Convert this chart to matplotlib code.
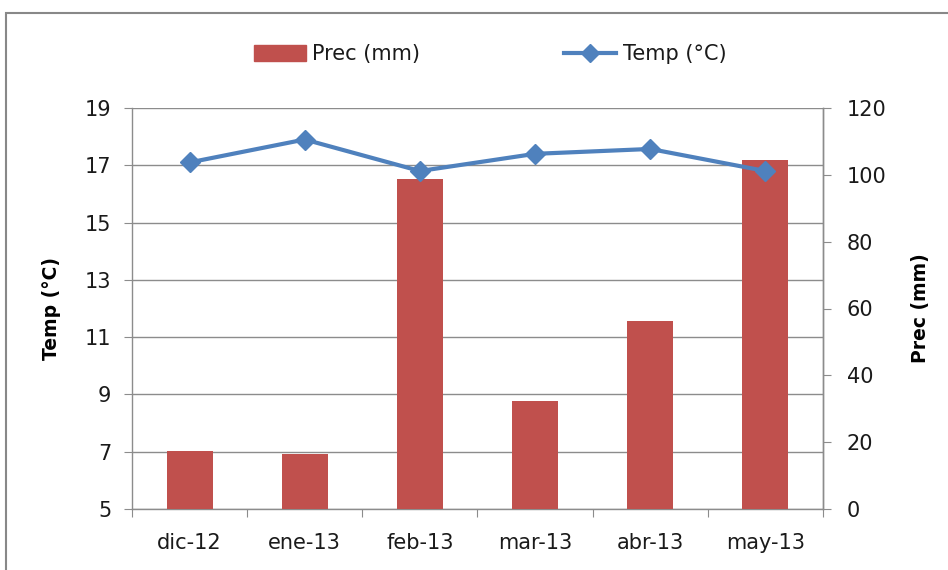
import matplotlib
matplotlib.use("Agg")
import matplotlib.pyplot as plt
from matplotlib.patches import Rectangle, Patch
from matplotlib.lines import Line2D
import numpy as np

months = ["dic-12", "ene-13", "feb-13", "mar-13", "abr-13", "may-13"]
prec_mm = [17.3, 16.6, 98.7, 32.3, 56.4, 104.5]
temp_c = [17.1, 17.9, 16.8, 17.4, 17.57, 16.8]
temp_ticks = [5, 7, 9, 11, 13, 15, 17, 19]
prec_ticks = [0, 20, 40, 60, 80, 100, 120]

bar_color = "#C0504D"
line_color = "#4F81BD"
grid_color = "#8C8C8C"
text_color = "#1A1A1A"
plt.rcParams["font.family"] = ["DejaVu Sans"]
plt.rcParams["text.color"] = text_color
plt.rcParams["xtick.color"] = text_color
plt.rcParams["ytick.color"] = text_color
FS = 15

fig = plt.figure(figsize=(9.48, 5.70), dpi=100)
pos = [132/948, 1-509/570, (823-132)/948, (509-108)/570]

x = np.arange(len(months))

# base axis: temperature scale with gridlines
ax = fig.add_axes(pos)
ax.set_xlim(-0.5, len(months)-0.5)
ax.set_ylim(5, 19)
ax.set_yticks(temp_ticks)
ax.yaxis.grid(True, color=grid_color, linewidth=1.0)
ax.set_axisbelow(True)
ax.set_xticks(np.arange(len(months)+1)-0.5)
ax.set_xticklabels([])
ax.set_xticks(x, minor=True)
ax.set_xticklabels(months, minor=True, fontsize=FS)
ax.tick_params(axis="x", which="minor", length=0, pad=17)
ax.tick_params(axis="x", which="major", length=6, color=grid_color, direction="out")
ax.tick_params(axis="y", length=6, color=grid_color, labelsize=FS, pad=9)
ax.spines["top"].set_visible(False)
for s in ["left", "bottom", "right"]:
    ax.spines[s].set_color(grid_color)
    ax.spines[s].set_linewidth(1.0)
ax.set_ylabel("Temp (°C)", fontsize=13.5, fontweight="bold")
ax.yaxis.set_label_coords(-(132-61)/691, 0.5)

# precipitation bars on right axis
ax2 = ax.twinx()
ax2.set_ylim(0, 120)
ax2.set_yticks(prec_ticks)
ax2.bar(x, prec_mm, width=0.40, color=bar_color, zorder=2)
ax2.tick_params(axis="y", length=6, color=grid_color, labelsize=FS, pad=11)
for s in ["top", "left", "bottom"]:
    ax2.spines[s].set_visible(False)
ax2.spines["right"].set_color(grid_color)
ax2.spines["right"].set_linewidth(1.0)
ax2.set_ylabel("Prec (mm)", fontsize=13.5, fontweight="bold")
ax2.yaxis.set_label_coords(1 + (911-823)/691, 0.5)

# temperature line on top
ax3 = fig.add_axes(pos, sharex=ax, sharey=ax)
ax3.set_axis_off()
ax3.patch.set_visible(False)
ax3.plot(x, temp_c, color=line_color, linewidth=3.0, marker="D", markersize=10,
         zorder=3)

# legend
handles = [Patch(facecolor=bar_color, edgecolor=bar_color),
           Line2D([0], [0], color=line_color, linewidth=3.0, marker="D", markersize=9)]
fig.legend(handles, ["Prec (mm)", "Temp (°C)"], loc="center", bbox_to_anchor=(0.517, 0.905),
           ncol=2, frameon=False, fontsize=FS, handlelength=2.5, handleheight=0.75,
           columnspacing=6.9, handletextpad=0.3)

# outer border
fig.patches.append(Rectangle((6/948, -0.1), 1.2, 1-13/570+0.1, transform=fig.transFigure,
                             fill=False, edgecolor="#888888", linewidth=1.5))

fig.savefig("out.png", dpi=100)
